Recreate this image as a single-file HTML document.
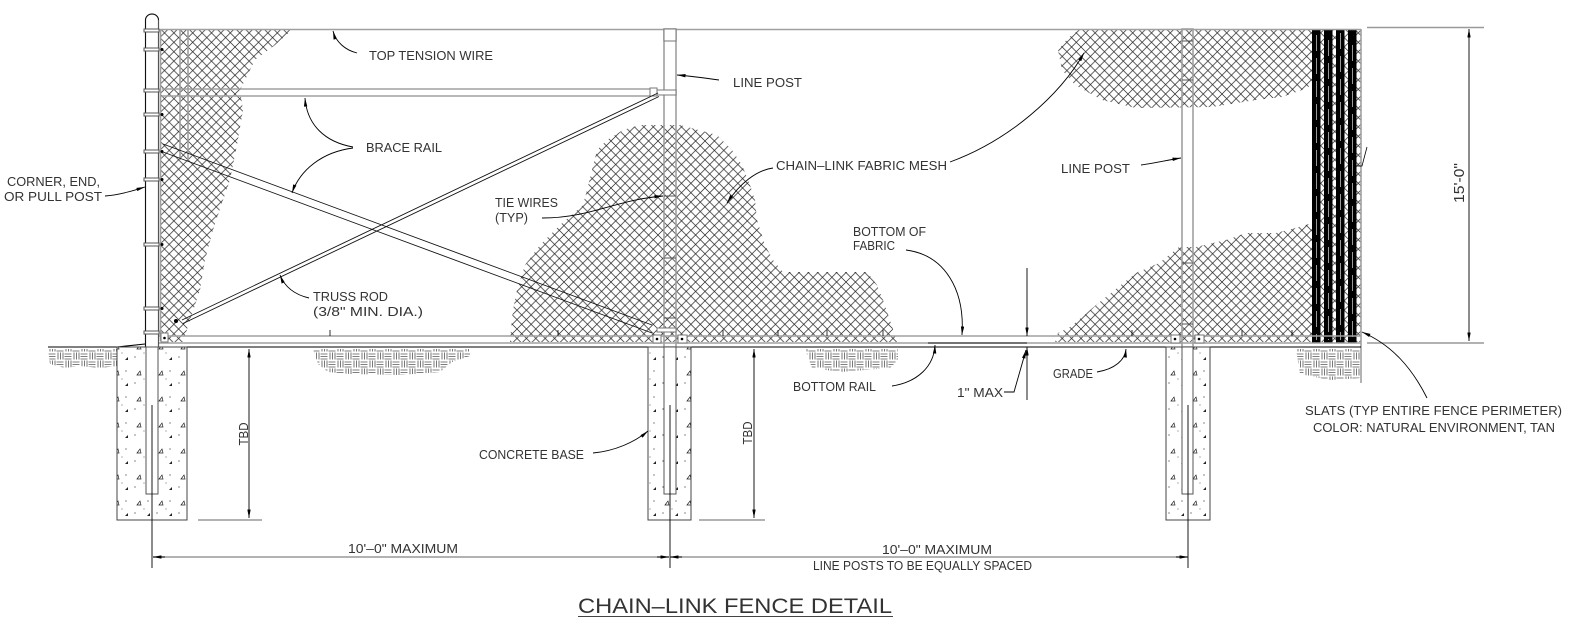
<!DOCTYPE html>
<html><head><meta charset="utf-8"><style>
html,body{margin:0;padding:0;background:#fff;}
svg{display:block;}
text{font-family:"Liberation Sans",Arial,sans-serif;font-size:12.5px;fill:#333;}
</style></head><body>
<svg width="1569" height="626" viewBox="0 0 1569 626" xmlns="http://www.w3.org/2000/svg">
<defs>
<pattern id="mesh" width="9.4" height="9.4" patternUnits="userSpaceOnUse"><path d="M0,0L9.4,9.4M9.4,0L0,9.4" stroke="#222" stroke-width="0.7" fill="none"/></pattern>
<pattern id="bw" width="16" height="16" patternUnits="userSpaceOnUse">
<g stroke="#555" stroke-width="0.8" fill="none">
<path d="M0.5,2H7.5M0.5,4.5H7.5M0.5,7H7.5"/>
<path d="M10,0.5V7.5M12.5,0.5V7.5M15,0.5V7.5"/>
<path d="M2,8.5V15.5M4.5,8.5V15.5M7,8.5V15.5"/>
<path d="M8.5,10H15.5M8.5,12.5H15.5M8.5,15H15.5"/>
</g></pattern>
<pattern id="conc" width="22" height="26" patternUnits="userSpaceOnUse">
<path d="M5,11L8,7L9,11Z" stroke="#222" stroke-width="0.7" fill="none"/>
<path d="M15,22L18,19L18,22Z" fill="#222"/>
<circle cx="3" cy="19" r="0.6" fill="#333"/><circle cx="16" cy="7" r="0.6" fill="#333"/><circle cx="12" cy="15" r="0.5" fill="#333"/>
</pattern>
<marker id="a" viewBox="0 0 10 4" refX="10" refY="2" markerWidth="9" markerHeight="3.4" markerUnits="userSpaceOnUse" orient="auto"><path d="M0,0L10,2L0,4Z" fill="#000"/></marker>
<marker id="b" viewBox="0 0 10 4" refX="10" refY="2" markerWidth="9" markerHeight="3.4" markerUnits="userSpaceOnUse" orient="auto-start-reverse"><path d="M0,0L10,2L0,4Z" fill="#000"/></marker>
</defs>
<rect width="1569" height="626" fill="#fff"/>

<!-- ground hatch -->
<path d="M48,349H117V366L100,368L80,366L65,368L50,364Z" fill="url(#bw)"/>
<path d="M313,349H470V356L452,362L440,372L400,375L350,374L328,372L318,364Z" fill="url(#bw)"/>
<path d="M805,349H898V360L890,368L840,372L812,368Z" fill="url(#bw)"/>
<path d="M1296,349H1361V378L1330,380L1300,374Z" fill="url(#bw)"/>

<!-- mesh -->
<path d="M160,29L293,29L275,45L255,60L240,90L243,110L237,145L230,180L223,200L213,230L205,260L200,290L190,320L183,342L160,342Z" fill="url(#mesh)"/>
<path d="M510,342L511,330L513,310L517,290L525,265L540,245L560,225L583,205L587,190L592,170L597,150L607,140L623,130L640,125L680,125L717,135L732,150L742,165L750,185L755,200L757,220L765,245L773,260L783,272L867,272L877,285L883,300L890,320L897,342Z" fill="url(#mesh)"/>
<path d="M1080,29L1312,29L1312,85L1302,90L1282,97L1256,100L1212,107L1136,108L1102,100L1075,85L1062,70L1058,50L1068,38Z" fill="url(#mesh)"/>
<path d="M1055,342L1058,333L1070,327L1102,300L1136,273L1159,263L1179,247L1196,247L1226,240L1246,233L1276,233L1299,227L1312,223L1312,342Z" fill="url(#mesh)"/>
<rect x="1312" y="29" width="49" height="313" fill="url(#mesh)"/>

<!-- slats -->
<g fill="#000">
<rect x="1312" y="29" width="8.5" height="314"/>
<rect x="1324" y="29" width="8.5" height="314"/>
<rect x="1336" y="29" width="8.5" height="314"/>
<rect x="1348" y="29" width="8.5" height="314"/>
</g>
<g stroke="#fff" stroke-width="0.6" stroke-dasharray="16 7">
<path d="M1316.5,35V340M1328.5,40V340M1340.5,33V340M1352.5,45V340"/>
</g>

<!-- structural gray lines -->
<g stroke="#a0a0a0" stroke-width="1.6" fill="none">
<path d="M157,29.5H1361"/>
<path d="M162,89H650M162,96H650"/>
<path d="M158,336H1361M158,343H1361"/>
<path d="M180,29V160M188,29V160"/>
<path d="M160.5,29V341"/>
<rect x="664" y="29" width="12" height="318"/>
<rect x="1182" y="29" width="11" height="318"/>
<path d="M1361,29V383"/>
</g>
<path d="M928,343H1027" stroke="#555" stroke-width="1.6"/>

<!-- line post details -->
<g stroke="#777" stroke-width="1" fill="#fff">
<rect x="664" y="29" width="12" height="12"/>
<rect x="650" y="88" width="7" height="8"/>
<rect x="657" y="90" width="19" height="5"/>
<rect x="657" y="328" width="19" height="4"/>
<rect x="653" y="335" width="8" height="8"/>
<rect x="678" y="335" width="9" height="8"/>
<rect x="1171" y="335" width="9" height="8"/>
<rect x="1195" y="335" width="9" height="8"/>
<rect x="161" y="333" width="7" height="9"/>
</g>
<g fill="#000"><circle cx="657" cy="339" r="1.3"/><circle cx="682" cy="339" r="1.3"/><circle cx="1175" cy="339" r="1.3"/><circle cx="1199" cy="339" r="1.3"/><circle cx="164.5" cy="338" r="1.3"/></g>
<g stroke="#555" stroke-width="1"><path d="M1182,41H1193M664,196H676M664,258H676M664,318H676M1182,263H1193M1182,324H1193M1182,80H1193"/></g>

<!-- bottom rail ticks -->
<g stroke="#000" stroke-width="0.8"><path d="M558,336V330M723,336V330M778,336V330M827,336V330M883,336V330M1132,336V330M1242,336V330M1292,336V330M330,336V330"/></g>

<!-- diagonal brace and truss rod -->
<g stroke="#111" stroke-width="0.9" fill="none">
<path d="M163,144L652,325M163,152L652,333"/>
<path d="M182,320L658,93M183,323.5L659,96.5"/>
</g>

<!-- corner post -->
<path d="M145.5,347V20A6.5,6,0 0 1 158.5,20V347" stroke="#555" stroke-width="1.2" fill="#fff"/>
<path d="M145.5,347V20A6.5,6,0 0 1 158.5,20" stroke="#000" stroke-width="0.8" fill="none"/>
<g stroke="#555" stroke-width="1" fill="#fff">
<rect x="144" y="29" width="15" height="3"/><rect x="144" y="48" width="15" height="3"/><rect x="144" y="89" width="15" height="3"/><rect x="144" y="113" width="15" height="3"/><rect x="144" y="150" width="15" height="3"/><rect x="144" y="178" width="15" height="3"/><rect x="144" y="243" width="15" height="3"/><rect x="144" y="307" width="15" height="3"/><rect x="144" y="331" width="15" height="3"/>
</g>
<g fill="#000"><circle cx="162" cy="49.5" r="1.5"/><circle cx="162" cy="114.5" r="1.5"/><circle cx="162" cy="151.5" r="1.5"/><circle cx="162" cy="179.5" r="1.5"/><circle cx="162" cy="244.5" r="1.5"/><circle cx="162" cy="308.5" r="1.5"/><circle cx="176" cy="321" r="2"/></g>

<!-- grade and footings -->
<g stroke="#000" stroke-width="1.1" fill="none">
<path d="M48,347H117L145,344"/>
<path d="M187,347H648M691,347H1166M1210,347H1361"/>
</g>
<g stroke="#444" stroke-width="1">
<rect x="117" y="347" width="70" height="173" fill="url(#conc)"/>
<rect x="648" y="347" width="43" height="173" fill="url(#conc)"/>
<rect x="1166" y="347" width="44" height="173" fill="url(#conc)"/>
</g>
<g stroke="#555" stroke-width="1" fill="#fff">
<rect x="146" y="347" width="12" height="147"/>
<rect x="664" y="347" width="12" height="147"/>
<rect x="1182" y="347" width="11" height="147"/>
</g>
<g stroke="#000" stroke-width="0.9"><path d="M152,405V568M670,405V568M1188,405V568"/></g>

<!-- TBD dims -->
<g stroke="#999" stroke-width="1.4"><path d="M198,520H262M699,520H765"/></g>
<path d="M249,349V518" stroke="#000" stroke-width="0.9" marker-start="url(#b)" marker-end="url(#b)"/>
<path d="M754,349V518" stroke="#000" stroke-width="0.9" marker-start="url(#b)" marker-end="url(#b)"/>
<text transform="translate(248,434) rotate(-90)" text-anchor="middle" textLength="23" lengthAdjust="spacingAndGlyphs">TBD</text>
<text transform="translate(752,433) rotate(-90)" text-anchor="middle" textLength="23" lengthAdjust="spacingAndGlyphs">TBD</text>

<!-- 10' dims -->
<path d="M153,557H1187" stroke="#999" stroke-width="1.4"/>
<path d="M165,557H153" stroke="#000" stroke-width="0.9" marker-end="url(#a)"/>
<path d="M657,557H669" stroke="#000" stroke-width="0.9" marker-end="url(#a)"/>
<path d="M682,557H670" stroke="#000" stroke-width="0.9" marker-end="url(#a)"/>
<path d="M1176,557H1188" stroke="#000" stroke-width="0.9" marker-end="url(#a)"/>

<!-- 15' dim -->
<g stroke="#999" stroke-width="1.4"><path d="M1367,27.5H1484M1367,343H1484"/></g>
<path d="M1469,29V341" stroke="#000" stroke-width="0.9" marker-start="url(#b)" marker-end="url(#b)"/>
<text transform="translate(1464,183) rotate(-90)" text-anchor="middle" style="font-size:15px" textLength="40" lengthAdjust="spacingAndGlyphs">15'-0"</text>
<path d="M1353,166H1362L1367,147" stroke="#000" stroke-width="0.8" fill="none"/>

<!-- 1" max -->
<path d="M1027,268V336" stroke="#000" stroke-width="0.9" marker-end="url(#a)"/>
<path d="M1027,400V347" stroke="#000" stroke-width="0.9" marker-end="url(#a)"/>

<!-- leaders -->
<g stroke="#000" stroke-width="0.9" fill="none" marker-end="url(#a)">
<path d="M357,53C345,50 336,42 333,31"/>
<path d="M719,80C705,78 690,76 677,75"/>
<path d="M353,147C325,142 307,125 305,98"/>
<path d="M353,148C322,152 300,170 292,193"/>
<path d="M105,196C120,195 135,190 145,187"/>
<path d="M309,298C292,294 284,285 280,275"/>
<path d="M542,218C590,218 615,200 663,196"/>
<path d="M773,168C757,170 740,183 727,203"/>
<path d="M950,162C1010,140 1060,95 1084,53"/>
<path d="M906,250C945,255 965,290 962,335"/>
<path d="M1141,165C1155,163 1168,160 1181,158"/>
<path d="M892,386C918,382 934,366 935,345"/>
<path d="M1004,392L1014,392L1026,350"/>
<path d="M1097,372C1115,369 1125,360 1126,349"/>
<path d="M593,453C615,451 635,442 648,431"/>
<path d="M1427,398C1412,368 1392,345 1362,332"/>
</g>

<!-- labels -->
<text x="369" y="60" textLength="124" lengthAdjust="spacingAndGlyphs">TOP  TENSION  WIRE</text>
<text x="733" y="87" textLength="69" lengthAdjust="spacingAndGlyphs">LINE  POST</text>
<text x="366" y="152" textLength="76" lengthAdjust="spacingAndGlyphs">BRACE  RAIL</text>
<text x="7" y="186" textLength="93" lengthAdjust="spacingAndGlyphs">CORNER,  END,</text>
<text x="4" y="201" textLength="98" lengthAdjust="spacingAndGlyphs">OR  PULL  POST</text>
<text x="313" y="301" textLength="75" lengthAdjust="spacingAndGlyphs">TRUSS  ROD</text>
<text x="313" y="316" textLength="110" lengthAdjust="spacingAndGlyphs">(3/8"  MIN.  DIA.)</text>
<text x="495" y="207" textLength="63" lengthAdjust="spacingAndGlyphs">TIE  WIRES</text>
<text x="495" y="222" textLength="33" lengthAdjust="spacingAndGlyphs">(TYP)</text>
<text x="776" y="170" textLength="171" lengthAdjust="spacingAndGlyphs">CHAIN–LINK  FABRIC  MESH</text>
<text x="853" y="236" textLength="73" lengthAdjust="spacingAndGlyphs">BOTTOM  OF</text>
<text x="853" y="250" textLength="42" lengthAdjust="spacingAndGlyphs">FABRIC</text>
<text x="1061" y="173" textLength="69" lengthAdjust="spacingAndGlyphs">LINE  POST</text>
<text x="793" y="391" textLength="83" lengthAdjust="spacingAndGlyphs">BOTTOM  RAIL</text>
<text x="957" y="397" textLength="46" lengthAdjust="spacingAndGlyphs">1"  MAX</text>
<text x="1053" y="378" textLength="40" lengthAdjust="spacingAndGlyphs">GRADE</text>
<text x="479" y="459" textLength="105" lengthAdjust="spacingAndGlyphs">CONCRETE  BASE</text>
<text x="348" y="553" textLength="110" lengthAdjust="spacingAndGlyphs">10'–0"  MAXIMUM</text>
<text x="882" y="554" textLength="110" lengthAdjust="spacingAndGlyphs">10'–0"  MAXIMUM</text>
<text x="813" y="570" textLength="219" lengthAdjust="spacingAndGlyphs">LINE  POSTS  TO  BE  EQUALLY  SPACED</text>
<text x="1305" y="415" textLength="257" lengthAdjust="spacingAndGlyphs">SLATS  (TYP  ENTIRE  FENCE  PERIMETER)</text>
<text x="1313" y="432" textLength="242" lengthAdjust="spacingAndGlyphs">COLOR:  NATURAL  ENVIRONMENT,  TAN</text>
<text x="578" y="613" style="font-size:21px" textLength="314" lengthAdjust="spacingAndGlyphs">CHAIN–LINK  FENCE  DETAIL</text>
<path d="M578,616.5H893" stroke="#444" stroke-width="1"/>
</svg>
</body></html>
